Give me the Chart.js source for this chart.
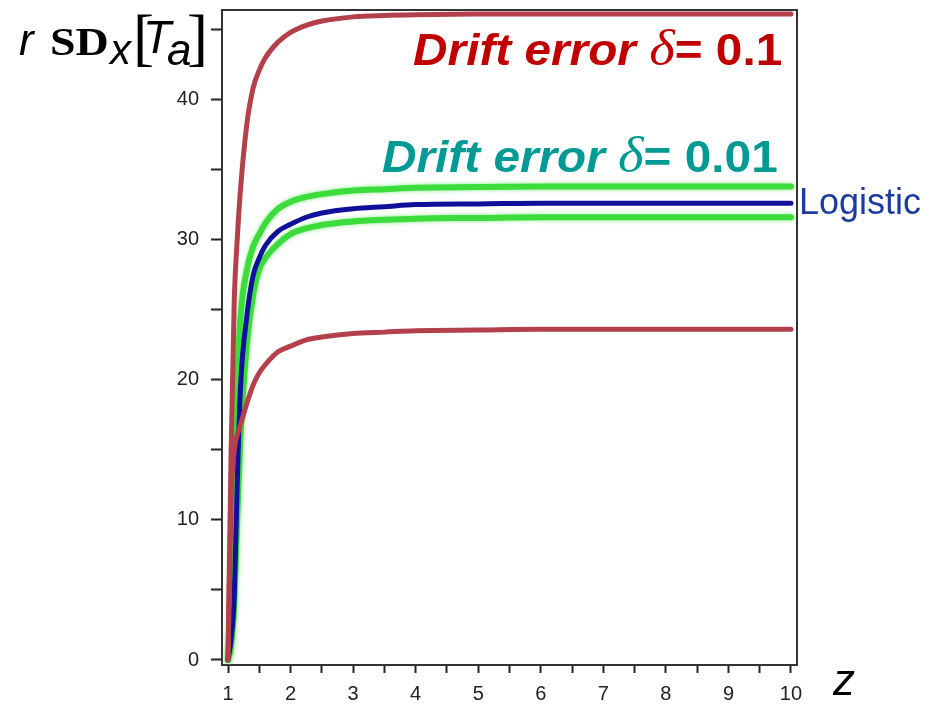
<!DOCTYPE html>
<html lang="en">

<head>
    <meta charset="UTF-8">
    <title>Drift error</title>
    <script src="https://cdn.jsdelivr.net/npm/chart.js"></script>
    <style>
        body {
            margin: 0;
            background: #fff;
        }

        .wrap {
            position: relative;
            width: 942px;
            height: 707px;
        }

        .wrap span,
        .wrap div.txt {
            position: absolute;
            white-space: nowrap;
        }

        .sans {
            font-family: "Liberation Sans", Arial, sans-serif;
        }

        .serif {
            font-family: "Liberation Serif", "Times New Roman", serif;
        }

        .drift {
            font-family: "Liberation Sans", Arial, sans-serif;
            font-weight: bold;
            font-style: italic;
            font-size: 44px;
            line-height: 44px;
            transform: scaleX(1.085);
            transform-origin: right;
        }

        .drift .d {
            font-family: "Liberation Serif", "Times New Roman", serif;
            font-weight: normal;
            font-size: 1.15em;
            line-height: 0;
            position: static;
        }

        .drift .n {
            font-style: normal;
            position: static;
        }
    </style>
</head>

<body>
    <div class="wrap">
        <canvas id="grafico" width="942" height="707"></canvas>

        <!-- y axis title: r SD_x[T_a] -->
        <span class="sans" style="left:19px;top:18px;font-size:44px;line-height:44px;font-style:italic;">r</span>
        <span class="serif" style="left:50px;top:22px;font-size:39px;line-height:39px;font-weight:bold;display:inline-block;transform:scaleX(1.18);transform-origin:left;">SD</span>
        <span class="sans" style="left:110px;top:29px;font-size:42px;line-height:42px;font-style:italic;">x</span>
        <span class="serif" style="left:133px;top:6px;font-size:63px;line-height:63px;">[</span>
        <span class="sans" style="left:143px;top:14px;font-size:46px;line-height:46px;font-style:italic;">T</span>
        <span class="sans" style="left:167px;top:28px;font-size:44px;line-height:44px;font-style:italic;">a</span>
        <span class="serif" style="left:187px;top:6px;font-size:63px;line-height:63px;">]</span>

        <div class="txt drift" style="right:160px;top:28px;color:#c00000;">Drift error <span class="d">δ</span><span class="n">= 0.1</span></div>
        <div class="txt drift" style="right:164px;top:135px;color:#009a94;">Drift error <span class="d">δ</span><span class="n">= 0.01</span></div>

        <span class="sans" style="left:799px;top:184px;font-size:36px;line-height:36px;color:#1c3ca0;">Logistic</span>
        <span class="sans" style="left:833px;top:658px;font-size:44px;line-height:44px;font-style:italic;">z</span>
    </div>

    <script>
        // z grid shared by all curves
        const zValues = [1, 1.05, 1.1, 1.15, 1.2, 1.3, 1.4, 1.5, 1.6, 1.8, 2, 2.25, 2.5, 3, 3.5, 4, 5, 6, 8, 10];

        // drift error 0.1 (upper / lower)
        const redUpper = [0, 15, 25.7, 30.2, 33.6, 38.2, 40.8, 42.1, 43, 44.1, 44.8, 45.3, 45.6, 45.9, 46, 46.05, 46.1, 46.1, 46.1, 46.1];
        const redLower = [0, 11.5, 15, 16.1, 16.8, 18.3, 19.6, 20.5, 21.1, 22, 22.4, 22.85, 23.05, 23.3, 23.4, 23.5, 23.55, 23.6, 23.6, 23.6];

        // drift error 0.01 (upper / lower)
        const greenUpper = [0, 5, 13, 20, 24.5, 27.8, 29.5, 30.4, 31.2, 32.2, 32.7, 33.05, 33.25, 33.5, 33.6, 33.7, 33.75, 33.8, 33.8, 33.8];
        const greenLower = [0, 1, 4, 10.5, 16, 22.5, 26, 27.9, 28.7, 29.7, 30.4, 30.8, 31.05, 31.3, 31.42, 31.5, 31.55, 31.6, 31.6, 31.6];

        // logistic
        const logistic = [0, 1.5, 4.5, 13, 19.5, 24.5, 27.4, 28.7, 29.6, 30.6, 31.1, 31.6, 31.9, 32.2, 32.35, 32.5, 32.55, 32.6, 32.6, 32.6];

        const xLabels = [1, 2, 3, 4, 5, 6, 7, 8, 9, 10];
        const yLabels = [0, 10, 20, 30, 40];

        function puntos(ys) {
            return zValues.map((z, i) => ({ x: z, y: ys[i] }));
        }

        function serie(ys, color, width, order) {
            return {
                data: puntos(ys),
                borderColor: color,
                borderWidth: width,
                pointRadius: 0,
                fill: false,
                cubicInterpolationMode: 'monotone',
                borderCapStyle: 'round',
                borderJoinStyle: 'round',
                order: order
            };
        }

        // frame around the plot area + glow on the green curves
        const marco = {
            id: 'marco',
            beforeDatasetsDraw(chart) {
                const a = chart.chartArea;
                const c = chart.ctx;
                c.save();
                c.strokeStyle = '#333';
                c.lineWidth = 2;
                c.strokeRect(a.left, a.top, a.right - a.left, a.bottom - a.top);
                c.restore();
            },
            beforeDatasetDraw(chart, args) {
                if (args.meta.order === 3) {
                    chart.ctx.save();
                    chart.ctx.shadowColor = 'rgba(60,220,60,0.6)';
                    chart.ctx.shadowBlur = 4;
                }
            },
            afterDatasetDraw(chart, args) {
                if (args.meta.order === 3) chart.ctx.restore();
            }
        };

        const tickFont = { family: '"Liberation Sans", Arial, sans-serif', size: 20 };

        new Chart(document.getElementById('grafico').getContext('2d'), {
            type: 'line',
            data: {
                datasets: [
                    serie(redUpper, '#b3404b', 5, 1),
                    serie(redLower, '#b3404b', 5, 1),
                    serie(logistic, '#10109a', 5, 2),
                    serie(greenUpper, '#3cdc3c', 6, 3),
                    serie(greenLower, '#3cdc3c', 6, 3)
                ]
            },
            options: {
                responsive: false,
                devicePixelRatio: 1,
                animation: false,
                layout: { padding: { top: 10, right: 145, left: 0, bottom: 0 } },
                plugins: { legend: { display: false }, tooltip: { enabled: false } },
                scales: {
                    x: {
                        type: 'linear',
                        min: 0.904,
                        max: 10.096,
                        ticks: {
                            stepSize: 0.5,
                            includeBounds: false,
                            autoSkip: false,
                            maxRotation: 0,
                            callback: v => xLabels.includes(v) ? String(v) : '',
                            font: tickFont,
                            color: '#222',
                            padding: 9
                        },
                        grid: { drawOnChartArea: false, tickLength: 8, tickColor: '#222', tickWidth: 2 },
                        border: { color: '#333', width: 2 },
                        afterFit: s => { s.height = 42; s.paddingLeft = 0; s.paddingRight = 0; }
                    },
                    y: {
                        type: 'linear',
                        min: -0.357,
                        max: 46.39,
                        ticks: {
                            stepSize: 5,
                            includeBounds: false,
                            autoSkip: false,
                            callback: v => yLabels.includes(v) ? String(v) : '',
                            font: tickFont,
                            color: '#222',
                            padding: 12
                        },
                        grid: { drawOnChartArea: false, tickLength: 11, tickColor: '#222', tickWidth: 2 },
                        border: { color: '#333', width: 2 },
                        afterFit: s => { s.width = 222; s.paddingTop = 0; s.paddingBottom = 0; }
                    }
                }
            },
            plugins: [marco]
        });
    </script>
</body>

</html>
